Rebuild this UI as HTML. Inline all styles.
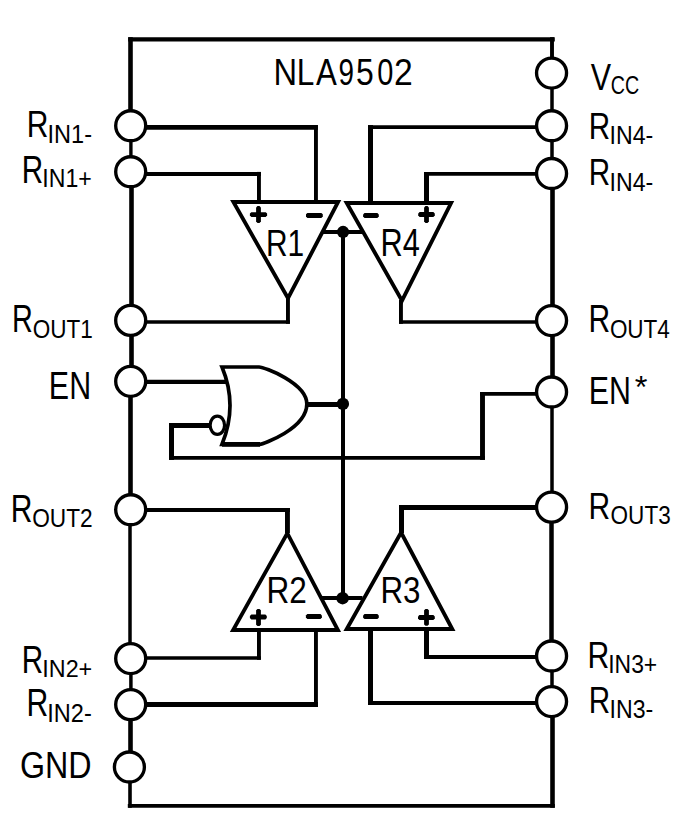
<!DOCTYPE html>
<html><head><meta charset="utf-8"><style>
html,body{margin:0;padding:0;background:#fff;}
svg{display:block;}
text{font-family:"Liberation Sans",sans-serif;font-size:100px;fill:#000;}
</style></head><body>
<svg width="675" height="828" viewBox="0 0 675 828">
<rect width="675" height="828" fill="#fff"/>
<g stroke="#000" fill="none" stroke-linecap="butt" stroke-linejoin="miter">
<path d="M128.2,39.3 L554.8,39.3" stroke-width="4.2"/>
<path d="M127.8,805.95 L554.8,805.95" stroke-width="3.7"/>
<path d="M130.5,37.2 L130.5,125.7" stroke-width="4.6"/>
<path d="M130.9,125.7 L130.9,172" stroke-width="3.4"/>
<path d="M131.5,172 L131.5,320.6" stroke-width="4.6"/>
<path d="M131.5,320.6 L131.5,381.7" stroke-width="4.6"/>
<path d="M130.5,381.7 L130.5,510.1" stroke-width="4.6"/>
<path d="M130.0,510.1 L130.0,658.8" stroke-width="3.5"/>
<path d="M130.9,658.8 L130.9,704.7" stroke-width="3.5"/>
<path d="M130.5,704.7 L130.5,767.1" stroke-width="4.6"/>
<path d="M130.0,767.1 L130.0,807.8" stroke-width="3.6"/>
<path d="M552.0,37.2 L552.0,73.1" stroke-width="3.9"/>
<path d="M552.0,73.1 L552.0,126.1" stroke-width="3.5"/>
<path d="M552.0,126.1 L552.0,173.7" stroke-width="3.5"/>
<path d="M552.5,173.7 L552.5,320.7" stroke-width="4.6"/>
<path d="M552.5,320.7 L552.5,392.3" stroke-width="4.6"/>
<path d="M552.0,392.3 L552.0,507.4" stroke-width="3.5"/>
<path d="M551.5,507.4 L551.5,656.1" stroke-width="4.5"/>
<path d="M552.0,656.1 L552.0,701.6" stroke-width="3.5"/>
<path d="M552.5,701.6 L552.5,807.8" stroke-width="4.6"/>
<path d="M130,127.45 L317.9,127.45" stroke-width="4.7"/>
<path d="M315.95,125.1 L315.95,202" stroke-width="3.9"/>
<path d="M130,173.9 L260.9,173.9" stroke-width="4.0"/>
<path d="M258.95,171.9 L258.95,202" stroke-width="3.9"/>
<path d="M287.95,298 L287.95,323.8" stroke-width="3.9"/>
<path d="M130,322.0 L289.9,322.0" stroke-width="3.7"/>
<path d="M130,381.9 L227,381.9" stroke-width="4.2"/>
<path d="M169,425.5 L209.5,425.5" stroke-width="5.0"/>
<path d="M171.5,423 L171.5,459.9" stroke-width="5.0"/>
<path d="M169,457.9 L484.9,457.9" stroke-width="3.9"/>
<path d="M482.5,392 L482.5,459.9" stroke-width="4.9"/>
<path d="M480,393.9 L552,393.9" stroke-width="3.9"/>
<path d="M306,404.5 L343,404.5" stroke-width="5.0"/>
<path d="M343.0,232 L343.0,598" stroke-width="4.0"/>
<path d="M322,232.0 L363.5,232.0" stroke-width="3.9"/>
<path d="M321,598.0 L362.5,598.0" stroke-width="3.9"/>
<path d="M130,510.0 L289.9,510.0" stroke-width="3.9"/>
<path d="M287.45,508 L287.45,533" stroke-width="4.9"/>
<path d="M258.95,630 L258.95,659.8" stroke-width="3.9"/>
<path d="M130,658.0 L260.9,658.0" stroke-width="3.7"/>
<path d="M315.95,630 L315.95,707.0" stroke-width="3.9"/>
<path d="M130,704.5 L317.9,704.5" stroke-width="5.0"/>
<path d="M370.5,125.1 L370.5,203" stroke-width="5.0"/>
<path d="M368,127.1 L552,127.1" stroke-width="3.9"/>
<path d="M426.5,172 L426.5,203" stroke-width="5.0"/>
<path d="M424,173.9 L552,173.9" stroke-width="3.9"/>
<path d="M400.95,300 L400.95,323.8" stroke-width="3.9"/>
<path d="M399,322.0 L552,322.0" stroke-width="3.7"/>
<path d="M401.5,505 L401.5,533" stroke-width="5.0"/>
<path d="M399,507.5 L552,507.5" stroke-width="5.0"/>
<path d="M426.5,629 L426.5,658.9" stroke-width="5.0"/>
<path d="M424,657.0 L552,657.0" stroke-width="3.9"/>
<path d="M370.5,629 L370.5,704.9" stroke-width="5.0"/>
<path d="M368,703.0 L552,703.0" stroke-width="3.9"/>
<path d="M233.4,202 L338.1,202 L288,298.2 Z" stroke-width="3.85" fill="none" stroke-linejoin="miter" stroke-miterlimit="10"/>
<path d="M234.4,202 L337.1,202" stroke-width="4.1"/>
<path d="M346.7,203 L451.1,203 L402,300.6 Z" stroke-width="3.85" fill="none" stroke-linejoin="miter" stroke-miterlimit="10"/>
<path d="M347.7,203 L450.1,203" stroke-width="4.1"/>
<path d="M233.1,630 L337.9,630 L287.3,533.2 Z" stroke-width="3.85" fill="none" stroke-linejoin="miter" stroke-miterlimit="10"/>
<path d="M234.1,630 L336.9,630" stroke-width="4.1"/>
<path d="M346.7,629 L452.3,629 L401.1,532.6 Z" stroke-width="3.85" fill="none" stroke-linejoin="miter" stroke-miterlimit="10"/>
<path d="M347.7,629 L451.3,629" stroke-width="4.1"/>
<path d="M249.90,213.60 L251.30,212.20 L265.70,212.20 L267.10,213.60 L267.10,215.60 L265.70,217.00 L251.30,217.00 L249.90,215.60 Z" fill="#000" stroke="none"/><path d="M257.50,206.00 L259.50,206.00 L260.90,207.40 L260.90,221.50 L259.50,222.90 L257.50,222.90 L256.10,221.50 L256.10,207.40 Z" fill="#000" stroke="none"/>
<path d="M306.00,214.30 L307.40,212.90 L321.40,212.90 L322.80,214.30 L322.80,216.50 L321.40,217.90 L307.40,217.90 L306.00,216.50 Z" fill="#000" stroke="none"/>
<path d="M363.10,214.40 L364.50,213.00 L377.40,213.00 L378.80,214.40 L378.80,216.60 L377.40,218.00 L364.50,218.00 L363.10,216.60 Z" fill="#000" stroke="none"/>
<path d="M418.20,213.50 L419.60,212.10 L433.40,212.10 L434.80,213.50 L434.80,215.50 L433.40,216.90 L419.60,216.90 L418.20,215.50 Z" fill="#000" stroke="none"/><path d="M425.50,206.00 L427.50,206.00 L428.90,207.40 L428.90,221.50 L427.50,222.90 L425.50,222.90 L424.10,221.50 L424.10,207.40 Z" fill="#000" stroke="none"/>
<path d="M249.90,616.00 L251.30,614.60 L265.40,614.60 L266.80,616.00 L266.80,618.00 L265.40,619.40 L251.30,619.40 L249.90,618.00 Z" fill="#000" stroke="none"/><path d="M257.50,608.90 L259.50,608.90 L260.90,610.30 L260.90,624.70 L259.50,626.10 L257.50,626.10 L256.10,624.70 L256.10,610.30 Z" fill="#000" stroke="none"/>
<path d="M305.90,615.40 L307.30,614.00 L320.50,614.00 L321.90,615.40 L321.90,617.60 L320.50,619.00 L307.30,619.00 L305.90,617.60 Z" fill="#000" stroke="none"/>
<path d="M363.10,615.50 L364.50,614.10 L377.40,614.10 L378.80,615.50 L378.80,617.70 L377.40,619.10 L364.50,619.10 L363.10,617.70 Z" fill="#000" stroke="none"/>
<path d="M418.00,616.50 L419.40,615.10 L433.40,615.10 L434.80,616.50 L434.80,618.50 L433.40,619.90 L419.40,619.90 L418.00,618.50 Z" fill="#000" stroke="none"/><path d="M425.50,608.90 L427.50,608.90 L428.90,610.30 L428.90,624.40 L427.50,625.80 L425.50,625.80 L424.10,624.40 L424.10,610.30 Z" fill="#000" stroke="none"/>
<path d="M222,367 L259,367 C264,367 306.85,383 306.85,404 C306.7,428.9 262.4,444.3 260,444.3 L222,444.3 Q238,405.5 222,367 Z" stroke-width="3.7" fill="none" stroke-linejoin="miter"/><path d="M222,444.4 L260,444.4" stroke-width="4.6"/>
<ellipse cx="217.35" cy="425.2" rx="7.2" ry="9.1" stroke-width="3.2" fill="#fff"/>
<circle cx="343.05" cy="232.0" r="6.15" fill="#000" stroke="none"/>
<circle cx="342.9" cy="403.9" r="6.15" fill="#000" stroke="none"/>
<circle cx="342.6" cy="598.2" r="6.25" fill="#000" stroke="none"/>
<circle cx="130.7" cy="125.76" r="15.0" stroke-width="3.35" fill="#fff"/>
<circle cx="130.7" cy="171.76" r="15.0" stroke-width="3.35" fill="#fff"/>
<circle cx="130.7" cy="320.4" r="15.0" stroke-width="3.35" fill="#fff"/>
<circle cx="130.7" cy="381.3" r="15.0" stroke-width="3.35" fill="#fff"/>
<circle cx="130.7" cy="509.76" r="15.0" stroke-width="3.35" fill="#fff"/>
<circle cx="130.7" cy="658.55" r="15.0" stroke-width="3.35" fill="#fff"/>
<circle cx="130.7" cy="704.6" r="15.0" stroke-width="3.35" fill="#fff"/>
<circle cx="129.4" cy="767.0" r="15.0" stroke-width="3.35" fill="#fff"/>
<circle cx="551.55" cy="73.05" r="15.0" stroke-width="3.35" fill="#fff"/>
<circle cx="551.55" cy="125.76" r="15.0" stroke-width="3.35" fill="#fff"/>
<circle cx="551.55" cy="173.5" r="15.0" stroke-width="3.35" fill="#fff"/>
<circle cx="551.55" cy="320.55" r="15.0" stroke-width="3.35" fill="#fff"/>
<circle cx="551.55" cy="392.0" r="15.0" stroke-width="3.35" fill="#fff"/>
<circle cx="551.55" cy="507.1" r="15.0" stroke-width="3.35" fill="#fff"/>
<circle cx="551.55" cy="656.0" r="15.0" stroke-width="3.35" fill="#fff"/>
<circle cx="551.55" cy="701.55" r="15.0" stroke-width="3.35" fill="#fff"/>
</g>
<g>
<text transform="matrix(0.30000 0 0 0.37353 26.700 136.974)">R</text>
<text transform="matrix(0.23543 0 0 0.25652 47.581 142.900)">IN1-</text>
<text transform="matrix(0.29661 0 0 0.38382 21.827 182.584)">R</text>
<text transform="matrix(0.23100 0 0 0.25072 42.321 186.700)">IN1+</text>
<text transform="matrix(0.28814 0 0 0.37941 12.095 332.479)">R</text>
<text transform="matrix(0.22568 0 0 0.26620 32.772 337.534)">OUT1</text>
<text transform="matrix(0.30407 0 0 0.38116 48.867 399.100)">EN</text>
<text transform="matrix(0.30000 0 0 0.38235 10.700 522.082)">R</text>
<text transform="matrix(0.22685 0 0 0.26197 32.166 526.938)">OUT2</text>
<text transform="matrix(0.29661 0 0 0.38382 21.827 672.584)">R</text>
<text transform="matrix(0.23350 0 0 0.24714 42.298 676.700)">IN2+</text>
<text transform="matrix(0.30169 0 0 0.38382 26.486 716.484)">R</text>
<text transform="matrix(0.23543 0 0 0.25429 47.281 721.700)">IN2-</text>
<text transform="matrix(0.32264 0 0 0.36761 19.887 778.432)">GND</text>
<text transform="matrix(0.30462 0 0 0.37391 590.695 89.600)">V</text>
<text transform="matrix(0.19704 0 0 0.24930 610.715 94.151)">CC</text>
<text transform="matrix(0.29661 0 0 0.37500 588.727 138.675)">R</text>
<text transform="matrix(0.23143 0 0 0.25797 609.617 143.900)">IN4-</text>
<text transform="matrix(0.29661 0 0 0.37647 588.727 185.176)">R</text>
<text transform="matrix(0.23143 0 0 0.25797 609.617 190.900)">IN4-</text>
<text transform="matrix(0.30000 0 0 0.38235 588.600 332.382)">R</text>
<text transform="matrix(0.22510 0 0 0.26338 609.875 337.737)">OUT4</text>
<text transform="matrix(0.30407 0 0 0.37971 588.767 404.000)">EN</text>
<text transform="matrix(0.32571 0 0 0.31714 634.649 397.883)">*</text>
<text transform="matrix(0.30000 0 0 0.37206 588.600 518.672)">R</text>
<text transform="matrix(0.22568 0 0 0.26620 610.572 523.634)">OUT3</text>
<text transform="matrix(0.30169 0 0 0.37647 587.586 668.176)">R</text>
<text transform="matrix(0.22900 0 0 0.25070 608.239 672.549)">IN3+</text>
<text transform="matrix(0.29661 0 0 0.37647 588.727 713.176)">R</text>
<text transform="matrix(0.23143 0 0 0.25070 609.617 717.549)">IN3-</text>
<text transform="matrix(0.32679 0 0 0.37826 273.486 85.000)">N</text>
<text transform="matrix(0.31591 0 0 0.37826 296.873 85.000)">L</text>
<text transform="matrix(0.31212 0 0 0.37826 316.100 85.000)">A</text>
<text transform="matrix(0.27826 0 0 0.36620 338.609 84.634)">9</text>
<text transform="matrix(0.31915 0 0 0.36429 355.923 84.636)">5</text>
<text transform="matrix(0.28958 0 0 0.36620 377.142 84.634)">0</text>
<text transform="matrix(0.33696 0 0 0.37143 393.915 85.000)">2</text>
<text transform="matrix(0.29913 0 0 0.37681 265.907 256.000)">R1</text>
<text transform="matrix(0.30769 0 0 0.38235 380.538 256.382)">R4</text>
<text transform="matrix(0.31565 0 0 0.37143 266.475 603.000)">R2</text>
<text transform="matrix(0.31304 0 0 0.36620 380.496 602.634)">R3</text>
</g>
</svg>
</body></html>
